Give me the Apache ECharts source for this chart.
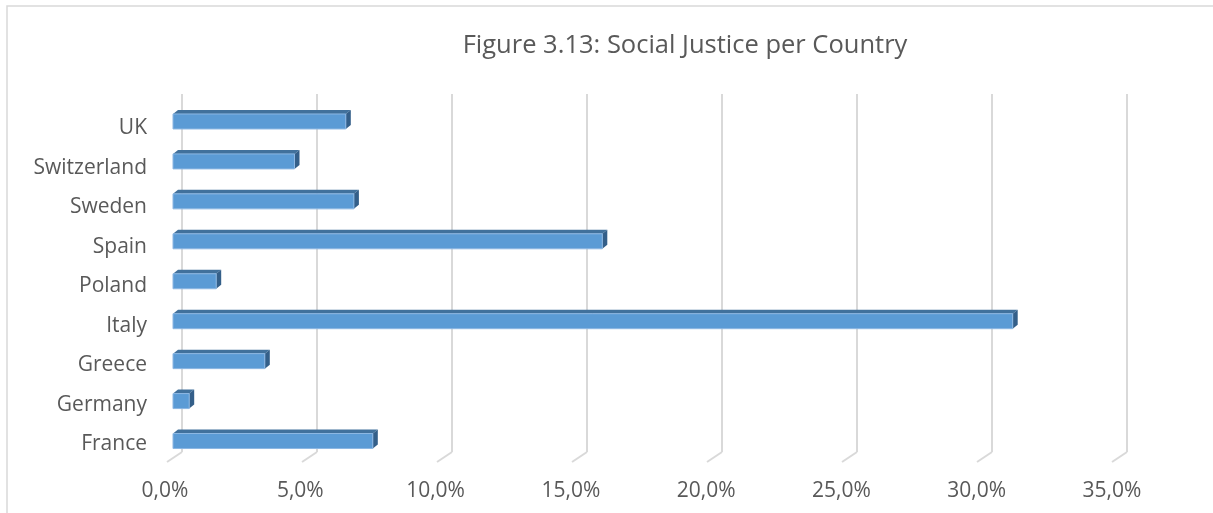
<!DOCTYPE html>
<html>
<head>
<meta charset="utf-8">
<script src="https://cdn.jsdelivr.net/npm/echarts@6/dist/echarts.min.js"></script>
<style>
  html, body { margin: 0; padding: 0; background: #fff; }
  #chart { width: 1213px; height: 513px; }
</style>
</head>
<body>
<div id="chart"></div>
<script>
// categories bottom to top, as the axis draws them
const countries = ['France', 'Germany', 'Greece', 'Italy', 'Poland', 'Spain', 'Sweden', 'Switzerland', 'UK']
const shares = [7.4, 0.6, 3.4, 31.1, 1.6, 15.9, 6.7, 4.5, 6.4]
const xTicks = [0, 5, 10, 15, 20, 25, 30, 35]

const textColor = '#595959'
const fontFamily = '"Open Sans", sans-serif'

const chart = echarts.init(document.getElementById('chart'))

// 3D-looking bar: front face, top face, right side
function renderBar(params, api) {
	const v = api.value(0)
	const c = api.value(1)
	const p0 = api.coord([0, c])
	const p1 = api.coord([v, c])
	const h = 15, dx = 5, dy = 4
	const x0 = p0[0], x1 = p1[0]
	const y0 = p0[1] - h / 2
	return {
		type: 'group',
		children: [
			{
				type: 'polygon',
				shape: { points: [[x0, y0], [x0 + dx, y0 - dy], [x1 + dx, y0 - dy], [x1, y0]] },
				style: { fill: '#41719c' }
			},
			{
				type: 'polygon',
				shape: { points: [[x1, y0], [x1 + dx, y0 - dy], [x1 + dx, y0 + h - dy], [x1, y0 + h]] },
				style: { fill: '#345f89' }
			},
			{
				type: 'rect',
				shape: { x: x0, y: y0, width: x1 - x0, height: h },
				style: { fill: '#5b9bd5', stroke: '#8db7e3', lineWidth: 1 }
			}
		]
	}
}

// little slanted floor tick under each gridline
function renderFloorTick(params, api) {
	const p = api.coord([api.value(0), 0])
	return {
		type: 'line',
		shape: { x1: p[0], y1: p[1], x2: p[0] - 15, y2: p[1] + 10 },
		style: { stroke: '#d9d9d9', lineWidth: 2 }
	}
}

chart.setOption({
	animation: false,
	title: {
		text: 'Figure 3.13: Social Justice per Country',
		left: 680,
		top: 28,
		textAlign: 'center',
		textStyle: { color: textColor, fontSize: 25.5, fontWeight: 'normal', fontFamily: fontFamily }
	},
	graphic: [{
		type: 'rect',
		shape: { x: 7, y: 6, width: 1220, height: 520 },
		style: { fill: 'none', stroke: '#d9d9d9', lineWidth: 1.5 },
		silent: true
	}],
	grid: [
		// back wall: gridlines
		{ left: 182, right: 86, top: 94, bottom: 61 },
		// bars
		{ left: 173, right: 95, top: 101.5, bottom: 52 },
		// labels
		{ left: 165, right: 101, top: 108.5, bottom: 49 }
	],
	xAxis: [
		{
			gridIndex: 0, type: 'value', min: 0, max: 35, interval: 5,
			axisLine: { show: false }, axisTick: { show: false }, axisLabel: { show: false },
			splitLine: { show: true, lineStyle: { color: '#d9d9d9', width: 2 } }
		},
		{
			gridIndex: 1, type: 'value', min: 0, max: 35, interval: 5,
			axisLine: { show: false }, axisTick: { show: false }, axisLabel: { show: false },
			splitLine: { show: false }
		},
		{
			gridIndex: 2, type: 'value', min: 0, max: 35, interval: 5,
			axisLine: { show: false }, axisTick: { show: false }, splitLine: { show: false },
			axisLabel: {
				color: textColor, fontSize: 21, fontFamily: fontFamily, margin: 17,
				formatter: v => v.toFixed(1).replace('.', ',') + '%'
			}
		}
	],
	yAxis: [
		{
			gridIndex: 0, type: 'value', min: 0, max: 1,
			show: false
		},
		{
			gridIndex: 1, type: 'category', data: countries,
			show: false
		},
		{
			gridIndex: 2, type: 'category', data: countries,
			axisLine: { show: false }, axisTick: { show: false }, splitLine: { show: false },
			axisLabel: { color: textColor, fontSize: 21, fontFamily: fontFamily, margin: 18 }
		}
	],
	series: [
		{
			type: 'custom',
			xAxisIndex: 0, yAxisIndex: 0,
			silent: true,
			data: xTicks.map(t => [t]),
			renderItem: renderFloorTick
		},
		{
			type: 'custom',
			xAxisIndex: 1, yAxisIndex: 1,
			data: shares.map((v, i) => [v, i]),
			encode: { x: 0, y: 1 },
			renderItem: renderBar
		}
	]
})
</script>
</body>
</html>
